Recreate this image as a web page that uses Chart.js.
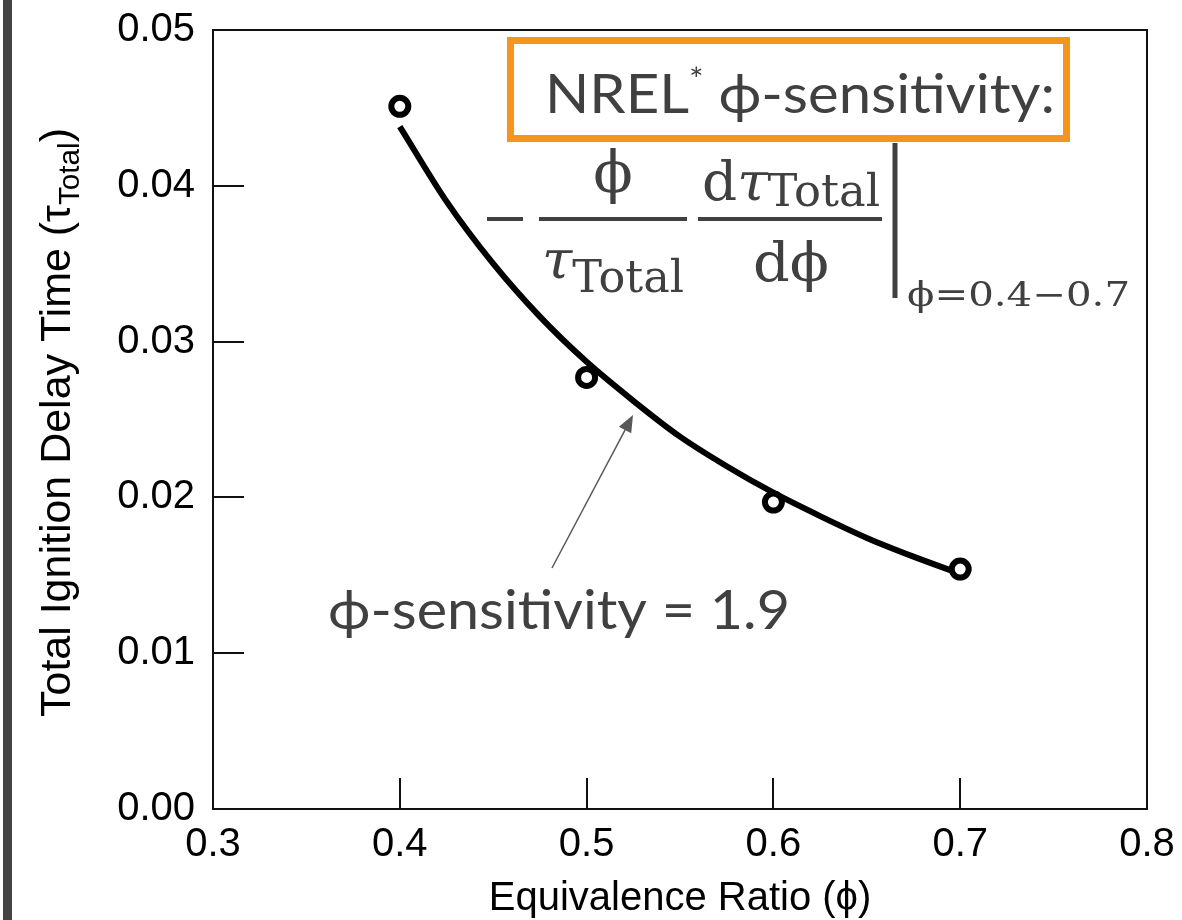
<!DOCTYPE html>
<html>
<head>
<meta charset="utf-8">
<script src="https://cdn.jsdelivr.net/npm/chart.js@4.4.1/dist/chart.umd.min.js"></script>
<style>
  html, body { margin: 0; padding: 0; background: #fff; }
  canvas { display: block; }
</style>
</head>
<body>
<canvas id="chart" width="1182" height="920"></canvas>
<script>
// axis ticks
const xTicks = [0.3, 0.4, 0.5, 0.6, 0.7, 0.8];
const yTicks = [0.00, 0.01, 0.02, 0.03, 0.04, 0.05];

// measured ignition delay (open circles)
const measuredPhi = [0.4, 0.5, 0.6, 0.7];
const measuredTau = [0.0451, 0.0277, 0.0197, 0.0154];

// fitted curve
const fitPhi = [0.400, 0.425, 0.450, 0.475, 0.500, 0.525, 0.550, 0.575, 0.600, 0.625, 0.650, 0.675, 0.700];
const fitTau = [0.0438, 0.0390, 0.0350, 0.0316, 0.0287, 0.0262, 0.0239, 0.0220, 0.0203, 0.0188, 0.0174, 0.0162, 0.0151];

const SANS = '"Liberation Sans", Arial, Helvetica, sans-serif';
const CAL = 'Lato, "Open Sans", "DejaVu Sans", sans-serif';
const SERIF = '"DejaVu Serif", "Liberation Serif", serif';
const GREY = '#404040';

// draws text pieces one after another, squeezed to a given width
function drawRun(ctx, parts, x, baseline, width) {
    let total = 0;
    parts.forEach(p => {
        ctx.font = p.font;
        p.w = ctx.measureText(p.text).width;
        total += p.w;
    });
    const k = width ? width / total : 1;
    ctx.save();
    ctx.translate(x, baseline);
    ctx.scale(k, 1);
    ctx.textAlign = 'left';
    ctx.textBaseline = 'alphabetic';
    let cx = 0;
    parts.forEach(p => {
        ctx.font = p.font;
        ctx.fillText(p.text, cx, p.dy || 0);
        cx += p.w;
    });
    ctx.restore();
}

function hline(ctx, x1, x2, y, w) {
    ctx.lineWidth = w;
    ctx.beginPath();
    ctx.moveTo(x1, y);
    ctx.lineTo(x2, y);
    ctx.stroke();
}

const framePlugin = {
    id: 'frame',
    beforeDraw(chart) {
        const ctx = chart.ctx;
        ctx.save();
        ctx.fillStyle = '#fff';
        ctx.fillRect(0, 0, chart.width, chart.height);
        ctx.fillStyle = '#444';
        ctx.fillRect(3, 0, 9, chart.height);
        ctx.restore();
    },
    afterDraw(chart) {
        const ctx = chart.ctx;
        const a = chart.chartArea;
        const x = chart.scales.x, y = chart.scales.y;
        ctx.save();
        ctx.strokeStyle = '#111';
        ctx.lineWidth = 2;
        ctx.strokeRect(a.left, a.top, a.right - a.left, a.bottom - a.top);
        // inward ticks
        ctx.beginPath();
        x.ticks.forEach(t => {
            const px = Math.round(x.getPixelForValue(t.value));
            ctx.moveTo(px, a.bottom);
            ctx.lineTo(px, a.bottom - 31);
        });
        y.ticks.forEach(t => {
            const py = Math.round(y.getPixelForValue(t.value));
            ctx.moveTo(a.left, py);
            ctx.lineTo(a.left + 31, py);
        });
        ctx.stroke();

        // axis titles
        ctx.fillStyle = '#000';
        ctx.save();
        ctx.translate(70, 717);
        ctx.rotate(-Math.PI / 2);
        drawRun(ctx, [
            { text: 'Total Ignition Delay Time (τ', font: '42px ' + SANS },
            { text: 'Total', font: '29px ' + SANS, dy: 9 },
            { text: ')', font: '42px ' + SANS }
        ], 0, 0, 589);
        ctx.restore();
        ctx.font = '40px ' + SANS;
        ctx.textAlign = 'center';
        ctx.fillText('Equivalence Ratio (ϕ)', (a.left + a.right) / 2, 910);

        // orange box with label
        ctx.strokeStyle = '#F7941D';
        ctx.lineWidth = 7;
        ctx.strokeRect(510.5, 40.5, 556, 98);
        ctx.fillStyle = GREY;
        drawRun(ctx, [
            { text: 'NREL', font: '54px ' + CAL },
            { text: '*', font: '32px ' + CAL, dy: -22 },
            { text: ' ϕ-sensitivity:', font: '54px ' + CAL }
        ], 545, 113, 510);

        // formula
        ctx.strokeStyle = GREY;
        hline(ctx, 487, 523, 219, 4);
        hline(ctx, 539, 687, 219, 4);
        hline(ctx, 698, 882, 219, 4);
        ctx.font = '58px ' + SERIF;
        ctx.textAlign = 'center';
        ctx.fillText('ϕ', 613, 192);
        drawRun(ctx, [
            { text: 'τ', font: 'italic 54px ' + SERIF },
            { text: 'Total', font: '44px ' + SERIF, dy: 14 }
        ], 542, 278, 142);
        drawRun(ctx, [
            { text: 'd', font: '54px ' + SERIF },
            { text: 'τ', font: 'italic 54px ' + SERIF },
            { text: 'Total', font: '44px ' + SERIF, dy: 6 }
        ], 702, 200, 178);
        drawRun(ctx, [{ text: 'dϕ', font: '54px ' + SERIF }], 753, 281, 76);
        ctx.lineWidth = 5;
        ctx.beginPath();
        ctx.moveTo(895, 143);
        ctx.lineTo(895, 298);
        ctx.stroke();
        drawRun(ctx, [{ text: 'ϕ=0.4−0.7', font: '34px ' + SERIF }], 907, 306, 223);

        // arrow + value label
        ctx.strokeStyle = '#595959';
        ctx.fillStyle = '#595959';
        ctx.lineWidth = 1.5;
        const x0 = 552, y0 = 568, x1 = 633, y1 = 415;
        const ang = Math.atan2(y1 - y0, x1 - x0);
        ctx.beginPath();
        ctx.moveTo(x0, y0);
        ctx.lineTo(x1 - 14 * Math.cos(ang), y1 - 14 * Math.sin(ang));
        ctx.stroke();
        ctx.beginPath();
        ctx.moveTo(x1, y1);
        ctx.lineTo(x1 - 17 * Math.cos(ang) + 7 * Math.sin(ang), y1 - 17 * Math.sin(ang) - 7 * Math.cos(ang));
        ctx.lineTo(x1 - 17 * Math.cos(ang) - 7 * Math.sin(ang), y1 - 17 * Math.sin(ang) + 7 * Math.cos(ang));
        ctx.closePath();
        ctx.fill();
        ctx.fillStyle = GREY;
        drawRun(ctx, [{ text: 'ϕ-sensitivity = 1.9', font: '54px ' + CAL }], 328, 629, 462);
        ctx.restore();
    }
};

const ctx = document.getElementById('chart').getContext('2d');
new Chart(ctx, {
    type: 'scatter',
    data: {
        datasets: [{
            label: 'measured',
            data: measuredPhi.map((p, i) => ({ x: p, y: measuredTau[i] })),
            showLine: false,
            pointRadius: 8.5,
            pointBorderWidth: 6,
            pointBackgroundColor: '#fff',
            pointBorderColor: '#000'
        }, {
            label: 'fit',
            data: fitPhi.map((p, i) => ({ x: p, y: fitTau[i] })),
            showLine: true,
            borderColor: '#000',
            borderWidth: 6,
            pointRadius: 0,
            cubicInterpolationMode: 'monotone'
        }]
    },
    options: {
        responsive: false,
        animation: false,
        layout: { padding: { top: 30, right: 35, left: 0, bottom: 0 } },
        plugins: {
            legend: { display: false },
            tooltip: { enabled: false }
        },
        scales: {
            x: {
                type: 'linear',
                min: 0.3,
                max: 0.8,
                afterBuildTicks: s => { s.ticks = xTicks.map(v => ({ value: v })); },
                afterFit: s => { s.height = 111; s.paddingLeft = 0; s.paddingRight = 0; },
                grid: { display: true, drawOnChartArea: false, drawTicks: false },
                border: { display: true, color: '#111', width: 2 },
                ticks: {
                    font: { family: SANS, size: 40 },
                    color: '#000',
                    padding: 12,
                    maxRotation: 0,
                    callback: v => Number(v).toFixed(1)
                }
            },
            y: {
                type: 'linear',
                min: 0,
                max: 0.05,
                afterBuildTicks: s => { s.ticks = yTicks.map(v => ({ value: v })); },
                afterFit: s => { s.width = 213; s.paddingTop = 0; s.paddingBottom = 0; },
                grid: { display: true, drawOnChartArea: false, drawTicks: false },
                border: { display: true, color: '#111', width: 2 },
                ticks: {
                    font: { family: SANS, size: 40 },
                    color: '#000',
                    padding: 18,
                    callback: v => Number(v).toFixed(2)
                }
            }
        }
    },
    plugins: [framePlugin]
});
</script>
</body>
</html>
